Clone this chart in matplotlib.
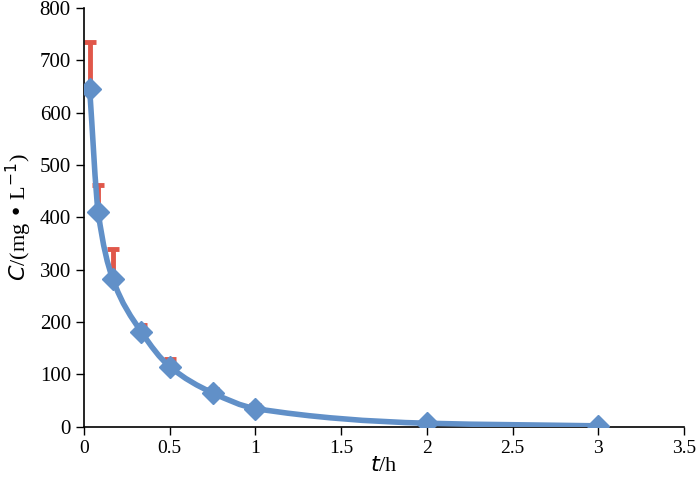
import numpy as np
import matplotlib
matplotlib.use("Agg")
from matplotlib import pyplot as plt
from matplotlib.path import Path
from matplotlib.patches import PathPatch

# Données
t = [0.033, 0.083, 0.167, 0.333, 0.5, 0.75, 1.0, 2.0, 3.0]
conc = [645, 410, 283, 182, 115, 65, 35, 7, 2]
err_up = [90, 52, 57, 13, 15, 7, 7, 0, 0]

x_ticks = [0, 0.5, 1, 1.5, 2, 2.5, 3, 3.5]
y_ticks = [0, 100, 200, 300, 400, 500, 600, 700, 800]

blue = "#6190c8"
red = "#e0574a"

plt.rcParams["font.family"] = ["Liberation Serif", "DejaVu Serif"]

fig = plt.figure(figsize=(7, 4.84), dpi=100)
ax = fig.add_axes([0.12, 0.118, 0.857, 0.866])

# Barres d'erreur (uniquement vers le haut)
ax.errorbar(t, conc, yerr=[np.zeros(len(err_up)), err_up], fmt="none",
            ecolor=red, elinewidth=3.5, capsize=4, capthick=3.5, zorder=2)

# Courbe lissée : Hermite monotone (pentes de Fritsch-Carlson) en Bézier
x = np.array(t)
y = np.array(conc, dtype=float)
h = np.diff(x)
d = np.diff(y) / h
m = np.zeros(len(x))
m[0], m[-1] = d[0], d[-1]
for i in range(1, len(x) - 1):
    if d[i - 1] * d[i] > 0:
        w1 = 2 * h[i] + h[i - 1]
        w2 = h[i] + 2 * h[i - 1]
        m[i] = (w1 + w2) / (w1 / d[i - 1] + w2 / d[i])
verts = [(x[0], y[0])]
codes = [Path.MOVETO]
for i in range(len(x) - 1):
    verts += [(x[i] + h[i] / 3, y[i] + m[i] * h[i] / 3),
              (x[i + 1] - h[i] / 3, y[i + 1] - m[i + 1] * h[i] / 3),
              (x[i + 1], y[i + 1])]
    codes += [Path.CURVE4] * 3
ax.add_patch(PathPatch(Path(verts, codes), facecolor="none", edgecolor=blue,
                       lw=4, capstyle="round", joinstyle="round", zorder=3))

ax.plot(t, conc, linestyle="none", marker="D", markersize=11,
        color=blue, markeredgecolor=blue, zorder=4)

ax.set_xlim(0, 3.5)
ax.set_ylim(0, 800)
ax.set_xticks(x_ticks)
ax.set_xticklabels(["0", "0.5", "1", "1.5", "2", "2.5", "3", "3.5"])
ax.set_yticks(y_ticks)
ax.tick_params(labelsize=15, length=6, width=1)
ax.tick_params(axis="x", labelsize=14)
for s in ["top", "right"]:
    ax.spines[s].set_visible(False)
ax.spines["left"].set_linewidth(1.2)
ax.spines["bottom"].set_linewidth(1.2)

ax.set_xlabel("$t$/h", fontsize=16, labelpad=0)
ax.set_ylabel("$C$/(mg • L$^{-1}$)", fontsize=16, labelpad=4)

fig.savefig("out.png", dpi=100)
